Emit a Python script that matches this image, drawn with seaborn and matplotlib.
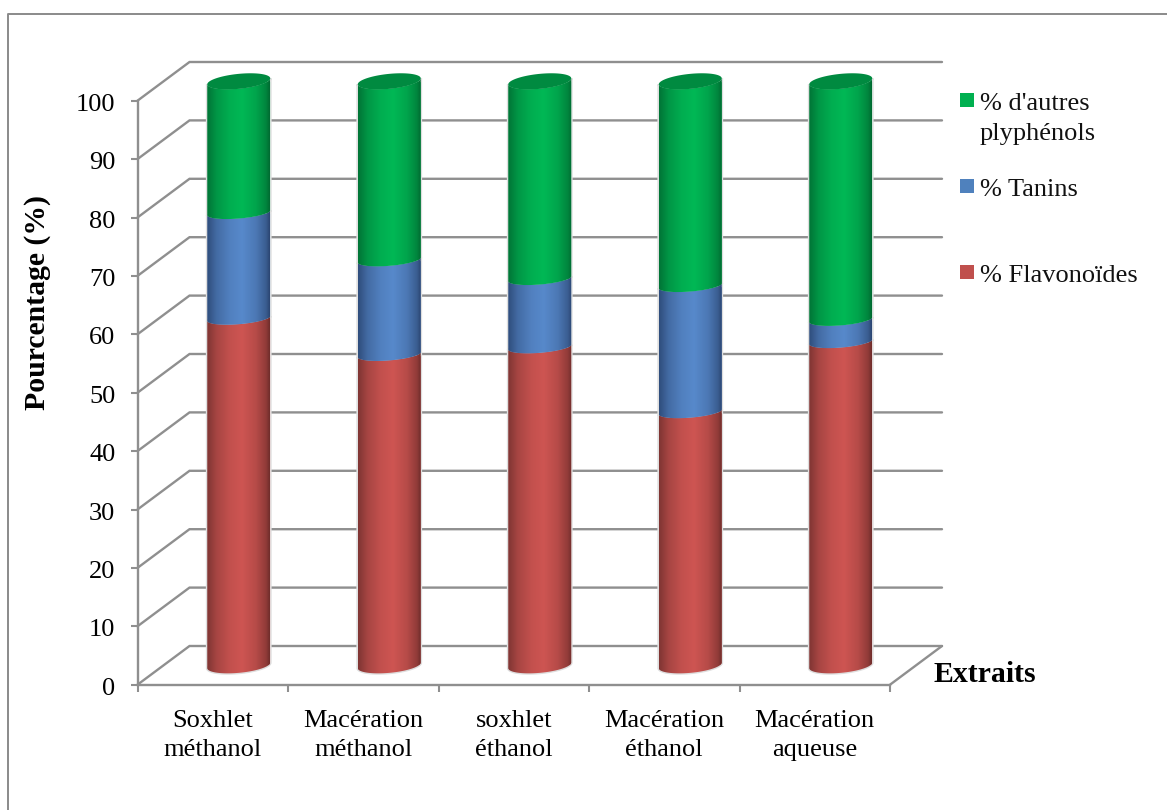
import numpy as np
import matplotlib
matplotlib.use("Agg")
import matplotlib.pyplot as plt
from matplotlib.colors import LinearSegmentedColormap, to_rgb
from matplotlib.lines import Line2D
from matplotlib.patches import Polygon, Rectangle
from matplotlib.transforms import ScaledTranslation
import seaborn as sns

# Composition of each extract, in percent
extraits = ["Soxhlet\nméthanol", "Macération\nméthanol", "soxhlet\néthanol",
            "Macération\néthanol", "Macération\naqueuse"]
flavonoides = [59.4, 53.2, 54.5, 43.4, 55.4]
tanins = [18.1, 16.2, 11.7, 21.6, 3.8]
autres = [22.5, 30.6, 33.8, 35.0, 40.8]

series_labels = ["% Flavonoïdes", "% Tanins", "% d'autres\nplyphénols"]
legend_colors = ["#c0504d", "#4f81bd", "#00b050"]
shade_colors = [("#7f3533", "#ce5552", "#702d2b"),
                ("#2f4d7c", "#5789cb", "#2b4672"),
                ("#007436", "#00b855", "#006a31")]
cap_color = "#008a40"
line_color = "#8f8f8f"
y_ticks = list(range(0, 101, 10))

W, H = 1167, 810
sns.set_theme(style="white")
plt.rcParams["font.family"] = ["Liberation Serif", "DejaVu Serif"]

fig = plt.figure(figsize=(W / 100, H / 100), dpi=100, facecolor="white")
left, right, bottom, top = 137.5, 890.0, 684.7, 100.7
ax = fig.add_axes([left / W, 1 - bottom / H, (right - left) / W, (bottom - top) / H])
ax.set_facecolor("none")

px_x = (right - left) / 5
px_y = (bottom - top) / 100

# Stacked columns, one seaborn call per series
stack = np.zeros(5)
for values, color, label in zip([flavonoides, tanins, autres], legend_colors, series_labels):
    sns.barplot(x=extraits, y=values, bottom=stack, color=color, width=63 / px_x,
                saturation=1, ax=ax, label=label, legend=False, zorder=3)
    stack = stack + np.array(values)

ax.set_xlim(-0.5, 4.5)
ax.set_ylim(0, 100)
ax.autoscale(False)

# Oblique depth of the chart box
depth_x, depth_y = 52 / px_x, 38.7 / px_y

# Walls: oblique and back lines at every graduation, then the floor edge
for v in y_ticks:
    ax.plot([-0.5, -0.5 + depth_x, 4.5 + depth_x], [v, v + depth_y, v + depth_y],
            color=line_color, lw=1.7, clip_on=False, zorder=1, solid_joinstyle="miter")
ax.plot([4.5, 4.5 + depth_x], [0, depth_y], color=line_color, lw=1.7, clip_on=False, zorder=1)

# Cylinders sit halfway through the depth; their ends are sheared ellipses.
# Semi-axes (vertical, shear) in pixels for the outer faces and the inner joints.
cap_axes = (7.5, 3.0)
joint_axes = (5.8, 2.5)
base_axes = (7.5, 2.8)
t_low = np.linspace(np.pi, 2 * np.pi, 60)


def front_arc(cx, radius, v, axes):
    a, b = axes[0] / px_y, axes[1] / px_y
    return cx + radius * np.cos(t_low), v + a * np.sin(t_low) + b * np.cos(t_low)


def blend(dark, light, share):
    return tuple((1 - share) * np.array(to_rgb(dark)) + share * np.array(to_rgb(light)))


n_cat = len(extraits)
for s in range(3):
    dark_l, light, dark_r = shade_colors[s]
    cmap = LinearSegmentedColormap.from_list(
        f"shade{s}",
        [(0.0, blend(dark_l, light, 0.0)), (0.15, blend(dark_l, light, 0.5)),
         (0.36, blend(dark_l, light, 0.85)), (0.56, light),
         (0.78, blend(dark_r, light, 0.75)), (0.94, blend(dark_r, light, 0.35)),
         (1.0, blend(dark_r, light, 0.0))])
    for i in range(n_cat):
        bar = ax.patches[s * n_cat + i]
        x0, w = bar.get_x() + depth_x / 2, bar.get_width()
        v0, h = bar.get_y() + depth_y / 2, bar.get_height()
        bar.set_x(x0)
        bar.set_y(v0)
        v1 = v0 + h
        cx, radius = x0 + w / 2, w / 2
        xb, yb = front_arc(cx, radius, v0, base_axes if s == 0 else joint_axes)
        xt, yt = front_arc(cx, radius, v1, cap_axes if s == 2 else joint_axes)
        outline = np.column_stack([np.r_[xb, xt[::-1]], np.r_[yb, yt[::-1]]])
        # The outline also leaves a faint halo around the column
        clip = Polygon(outline, closed=True, transform=ax.transData, fc="none",
                       ec="#dedede", lw=2.0, zorder=2, clip_on=False)
        ax.add_patch(clip)
        bar.set_clip_path(clip)
        bar.set_clip_box(fig.bbox)
        img = ax.imshow(np.linspace(0, 1, 128)[None, :], cmap=cmap, aspect="auto",
                        extent=(x0, x0 + w, v0 - 3 * cap_axes[0] / px_y, v1 + 3 * cap_axes[0] / px_y),
                        zorder=4, interpolation="bilinear")
        img.set_clip_path(clip)
        img.set_clip_box(fig.bbox)
        if s == 2:
            # Upper face of the column
            t = np.linspace(0, 2 * np.pi, 120)
            a, b = cap_axes[0] / px_y, cap_axes[1] / px_y
            cap = np.column_stack([cx + radius * np.cos(t), v1 + a * np.sin(t) + b * np.cos(t)])
            ax.add_patch(Polygon(cap, closed=True, fc=cap_color, ec="none", zorder=5, clip_on=False))

ax.set_xlim(-0.5, 4.5)
ax.set_ylim(0, 100)

# Axes, ticks and their labels
for name in ["top", "right"]:
    ax.spines[name].set_visible(False)
for name in ["left", "bottom"]:
    ax.spines[name].set_color(line_color)
    ax.spines[name].set_linewidth(1.7)
    ax.spines[name].set_zorder(2)

ax.set_yticks(y_ticks)
ax.set_xticks(np.arange(-0.5, 5.0, 1.0))
ax.set_xticklabels([])
ax.set_xticks(np.arange(5), labels=extraits, minor=True)
ax.tick_params(axis="y", length=5, width=1.5, color=line_color, labelsize=19, pad=11,
               left=True, labelcolor="black")
ax.tick_params(axis="x", which="major", length=5, width=1.5, color=line_color, bottom=True)
ax.tick_params(axis="x", which="minor", length=0, labelsize=19, pad=18, labelcolor="black")
for lab in ax.get_xticklabels(minor=True):
    lab.set_linespacing(1.42)
nudge = ScaledTranslation(0, -1.5 / 100, fig.dpi_scale_trans)
for lab in ax.get_yticklabels():
    lab.set_transform(lab.get_transform() + nudge)
ax.set_xlabel("")
ax.set_ylabel("")

fig.text(38 / W, 1 - 303 / H, "Pourcentage (%)", rotation=90, ha="center", va="center",
         fontsize=21.4, fontweight="bold", color="black")
fig.text(933 / W, 1 - 675 / H, "Extraits", ha="left", va="center",
         fontsize=21.4, fontweight="bold", color="black")

# Legend keys and texts
for yc, s in [(100, 2), (186, 1), (272, 0)]:
    fig.add_artist(Rectangle((960 / W, 1 - (yc + 7) / H), 14 / W, 14 / H, transform=fig.transFigure,
                             fc=legend_colors[s], ec="none"))
legend_font = dict(ha="left", va="center", fontsize=19, color="#111111")
fig.text(980 / W, 1 - 103.5 / H, "% d'autres", **legend_font)
fig.text(980 / W, 1 - 134 / H, "plyphénols", **legend_font)
fig.text(980 / W, 1 - 190.5 / H, "% Tanins", **legend_font)
fig.text(980 / W, 1 - 276 / H, "% Flavonoïdes", **legend_font)

# Outer frame: only its top and left edges fall inside the canvas
fig.add_artist(Line2D([7.5 / W, 7.5 / W, 1], [0, 1 - 13.5 / H, 1 - 13.5 / H],
                      transform=fig.transFigure, color="#8a8a8a", lw=1.4))

fig.savefig("out.png", dpi=100)
